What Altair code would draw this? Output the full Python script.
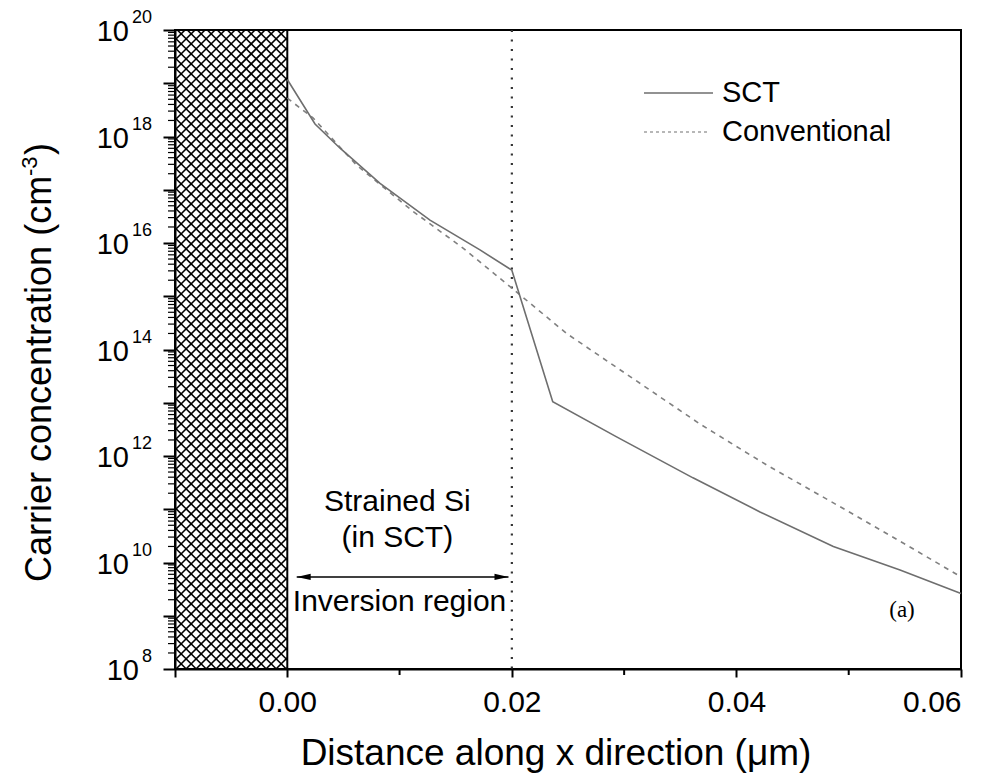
import altair as alt
import pandas as pd
import numpy as np

# ---------------- data ----------------
sct_x = [0.0, 0.00247, 0.0047, 0.00826, 0.01271, 0.01716, 0.0200, 0.02364, 0.02933, 0.03613, 0.0421, 0.04863, 0.05457, 0.06]
sct_log = [19.07, 18.235, 17.78, 17.12, 16.43, 15.87, 15.49, 13.02, 12.36, 11.59, 10.95, 10.30, 9.86, 9.42]

conv_x = [0.0, 0.00229, 0.00618, 0.01122, 0.01568, 0.01984, 0.02488, 0.03082, 0.03676, 0.0427, 0.04863, 0.05457, 0.06]
conv_log = [18.72, 18.35, 17.46, 16.59, 15.90, 15.18, 14.30, 13.45, 12.60, 11.83, 11.12, 10.40, 9.73]

x_major = [-0.01, 0.0, 0.02, 0.04, 0.06]
x_minor = [0.01, 0.03, 0.05]
y_label_exp2 = ["20", "18", "16", "14", "12", "10"]
y_label_exp1 = ["8"]
y_decades = list(range(8, 21))
oxide_x = [-0.01, 0.0]
inversion_edge = [0.02]
arrow_x = [0.00084, 0.0197]
arrow_log = 9.73
annot_text = ["Strained Si", "(in SCT)", "Inversion region"]
annot_x = [0.0098, 0.0098, 0.0100]
annot_log = [11.14, 10.46, 9.26]
legend_names = ["SCT", "Conventional"]

# ---------------- layout ----------------
W, H = 786, 639
X0, X1 = -0.01, 0.06
E0, E1 = 8, 20
FONT = "Liberation Sans"

xs = alt.Scale(domain=[X0, X1], nice=False, zero=False)
ys = alt.Scale(type="log", domain=[10.0 ** E0, 10.0 ** E1], nice=False)
x_axis = alt.Axis(values=x_major, title=None,
                  labelExpr="datum.value < -0.005 ? '' : format(datum.value, '.2f')",
                  tickSize=8, labelFontSize=30, labelFont=FONT, labelColor="black",
                  labelPadding=10, grid=False)
y_axis = alt.Axis(values=[10.0 ** e for e in y_decades], title=None, labels=False,
                  tickSize=12, grid=False)
X = alt.X("x:Q", scale=xs, axis=x_axis)
Y = alt.Y("y:Q", scale=ys, axis=y_axis)

# hatch lines for the oxide region (crosshatch at +/-45 degrees)
hatch_w = W * (oxide_x[1] - oxide_x[0]) / (X1 - X0)
step = 10.0
rows = []
def u2x(u):
    return oxide_x[0] + u * (X1 - X0) / W
def v2y(v):
    return 10.0 ** (E1 - v * (E1 - E0) / H)
c = -hatch_w
while c <= H:
    ua, ub = max(0.0, -c), min(hatch_w, H - c)
    if ub > ua:
        rows.append({"x": u2x(ua), "x2": u2x(ub), "y": v2y(ua + c), "y2": v2y(ub + c)})
    c += step
c = 0.0
while c <= H + hatch_w:
    ua, ub = max(0.0, c - H), min(hatch_w, c)
    if ub > ua:
        rows.append({"x": u2x(ua), "x2": u2x(ub), "y": v2y(c - ua), "y2": v2y(c - ub)})
    c += step
hatch_df = pd.DataFrame(rows)

hatch = alt.Chart(hatch_df).mark_rule(color="black", strokeWidth=1.6).encode(
    x=X, x2="x2:Q", y=Y, y2="y2:Q")

oxide_edge = alt.Chart(pd.DataFrame({"x": [oxide_x[1]]})).mark_rule(
    color="black", strokeWidth=2).encode(x=X)

dotted = alt.Chart(pd.DataFrame({"x": inversion_edge})).mark_rule(
    color="#333333", strokeWidth=2.2, strokeDash=[2, 7.5]).encode(x=X)

sct_df = pd.DataFrame({"x": sct_x, "y": [10.0 ** v for v in sct_log]})
conv_df = pd.DataFrame({"x": conv_x, "y": [10.0 ** v for v in conv_log]})
sct_line = alt.Chart(sct_df).mark_line(color="#6e6e6e", strokeWidth=1.6).encode(x=X, y=Y)
conv_line = alt.Chart(conv_df).mark_line(color="#808080", strokeWidth=1.6,
                                          strokeDash=[5, 5]).encode(x=X, y=Y)

# minor ticks
xminor = alt.Chart(pd.DataFrame({"x": x_minor})).mark_rule(color="black", strokeWidth=2).encode(
    x=X, y=alt.value(H), y2=alt.value(H + 6))
yminor_vals = [k * 10.0 ** e for e in range(E0, E1) for k in range(2, 10)]
yminor = alt.Chart(pd.DataFrame({"y": yminor_vals})).mark_rule(color="black", strokeWidth=1.2).encode(
    y=Y, x=alt.value(-7), x2=alt.value(0))

# y tick labels: 10 with superscript exponent
lab2 = pd.DataFrame({"y": [10.0 ** int(e) for e in y_label_exp2], "e": y_label_exp2})
lab1 = pd.DataFrame({"y": [10.0 ** int(e) for e in y_label_exp1], "e": y_label_exp1})
def ten(df, right):
    return alt.Chart(df).mark_text(text="10", font=FONT, fontSize=29, align="right",
                                   baseline="middle", dy=2, color="black").encode(
        y=Y, x=alt.value(right))
def expo(df):
    return alt.Chart(df).mark_text(font=FONT, fontSize=18, align="right",
                                   baseline="middle", dy=-12, color="black").encode(
        y=Y, x=alt.value(-23), text="e:N")
ylabels = ten(lab2, -46) + ten(lab1, -36) + expo(lab2) + expo(lab1)

# arrow
arrow_df = pd.DataFrame({"x": arrow_x, "y": [10.0 ** arrow_log] * 2})
arrow_line = alt.Chart(arrow_df).mark_line(color="black", strokeWidth=1.5).encode(x=X, y=Y)
head_r = alt.Chart(arrow_df.iloc[[1]]).mark_point(
    shape="M0,0L-2,-0.45L-2,0.45Z", size=196, filled=True, color="black", opacity=1).encode(x=X, y=Y)
head_l = alt.Chart(arrow_df.iloc[[0]]).mark_point(
    shape="M0,0L2,-0.45L2,0.45Z", size=196, filled=True, color="black", opacity=1).encode(x=X, y=Y)

annot_df = pd.DataFrame({"x": annot_x, "y": [10.0 ** v for v in annot_log], "t": annot_text})
annot = alt.Chart(annot_df).mark_text(font=FONT, fontSize=30, align="center",
                                      baseline="middle", color="black").encode(x=X, y=Y, text="t:N")

tag = alt.Chart(pd.DataFrame({"t": ["(a)"]})).mark_text(
    font="Liberation Serif", fontSize=23, align="center", baseline="middle", color="black").encode(
    x=alt.value(727), y=alt.value(580), text="t:N")

# legend
leg_sct = alt.Chart(pd.DataFrame({"n": [legend_names[0]]})).mark_rule(
    color="#6e6e6e", strokeWidth=1.6).encode(x=alt.value(469), x2=alt.value(538), y=alt.value(63))
leg_conv = alt.Chart(pd.DataFrame({"n": [legend_names[1]]})).mark_rule(
    color="#a0a0a0", strokeWidth=1.4, strokeDash=[3, 3]).encode(x=alt.value(469), x2=alt.value(534), y=alt.value(102))
leg_t1 = alt.Chart(pd.DataFrame({"n": [legend_names[0]]})).mark_text(
    font=FONT, fontSize=29, align="left", baseline="middle", color="black").encode(
    x=alt.value(547), y=alt.value(63), text="n:N")
leg_t2 = alt.Chart(pd.DataFrame({"n": [legend_names[1]]})).mark_text(
    font=FONT, fontSize=29, align="left", baseline="middle", color="black").encode(
    x=alt.value(547), y=alt.value(102), text="n:N")

# axis titles
xtitle = alt.Chart(pd.DataFrame({"t": ["Distance along x direction (\u03bcm)"]})).mark_text(
    font=FONT, fontSize=37, align="center", baseline="alphabetic", color="black").encode(
    x=alt.value(381), y=alt.value(735), text="t:N")
yt_main = alt.Chart(pd.DataFrame({"t": ["Carrier concentration (cm"]})).mark_text(
    font=FONT, fontSize=36, angle=270, align="left", baseline="alphabetic", color="black").encode(
    x=alt.value(-124), y=alt.value(552), text="t:N")
yt_sup = alt.Chart(pd.DataFrame({"t": ["-3"]})).mark_text(
    font=FONT, fontSize=22, angle=270, align="left", baseline="alphabetic", color="black").encode(
    x=alt.value(-138), y=alt.value(146), text="t:N")
yt_close = alt.Chart(pd.DataFrame({"t": [")"]})).mark_text(
    font=FONT, fontSize=36, angle=270, align="left", baseline="alphabetic", color="black").encode(
    x=alt.value(-124), y=alt.value(125), text="t:N")

chart = alt.layer(
    hatch, oxide_edge, dotted, conv_line, sct_line, xminor, yminor, ylabels,
    arrow_line, head_r, head_l, annot, tag, leg_sct, leg_conv, leg_t1, leg_t2,
    xtitle, yt_main, yt_sup, yt_close
).properties(
    width=W, height=H,
    autosize=alt.AutoSizeParams(type="none"),
    padding={"left": 167, "top": 22, "right": 30, "bottom": 105},
    background="white",
).configure_view(
    stroke="black", strokeWidth=2
).configure_axis(
    domainColor="black", domainWidth=2, tickColor="black", tickWidth=2
)

chart.save("out.html", embed_options={"renderer": "svg", "actions": False})
